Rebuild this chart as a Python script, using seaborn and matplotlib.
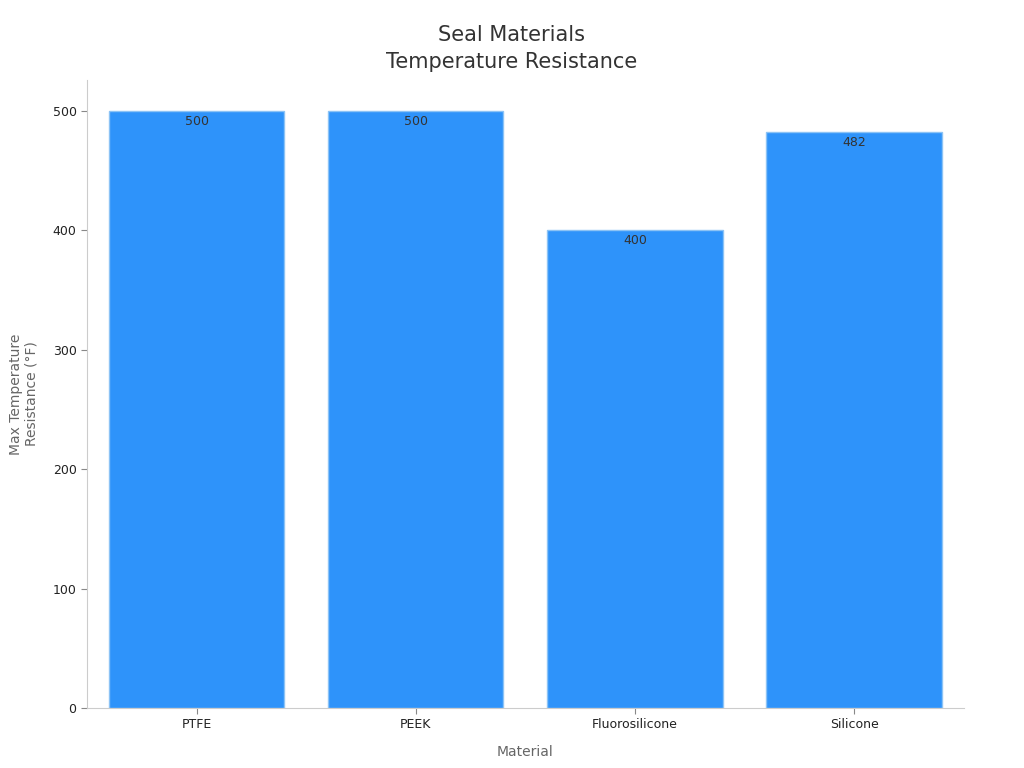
import pandas as pd
import matplotlib
matplotlib.use("Agg")
import matplotlib.pyplot as plt
import seaborn as sns

materials = ["PTFE", "PEEK", "Fluorosilicone", "Silicone"]
max_temp_f = [500, 500, 400, 482]

df = pd.DataFrame({"Material": materials, "Temp": max_temp_f})

sns.set_style("white")
plt.rcParams['font.family'] = ['DejaVu Sans']

fig = plt.figure(figsize=(10.24, 7.68), dpi=100)
ax = fig.add_axes([0.085, 0.078, 0.856, 0.818])

sns.barplot(data=df, x="Material", y="Temp", color="#2E93FA", saturation=1,
            width=0.8, edgecolor="#8CC3F5", linewidth=1, ax=ax)

for i, v in enumerate(max_temp_f):
    ax.text(i, v - 3, str(v), ha='center', va='top', fontsize=9, color='#333333')

ax.set_xlim(-0.5, 3.5)
ax.set_ylim(0, 526)
ax.set_yticks([0, 100, 200, 300, 400, 500])
fig.suptitle("Seal Materials\nTemperature Resistance", fontsize=15, color='#333333',
             x=0.5, y=0.967, va='top', linespacing=1.4)
ax.set_xlabel("Material", fontsize=10, color='#666666', labelpad=10)
ax.set_ylabel("Max Temperature\nResistance (°F)", fontsize=10, color='#666666', labelpad=10)

for s in ['top', 'right']:
    ax.spines[s].set_visible(False)
for s in ['left', 'bottom']:
    ax.spines[s].set_color('#cccccc')
    ax.spines[s].set_linewidth(0.8)
ax.tick_params(axis='both', bottom=True, left=True, length=4, width=0.8, color='#888888',
               labelsize=9, labelcolor='#222222')
ax.tick_params(axis='x', pad=3)

fig.savefig("out.png", dpi=100)
